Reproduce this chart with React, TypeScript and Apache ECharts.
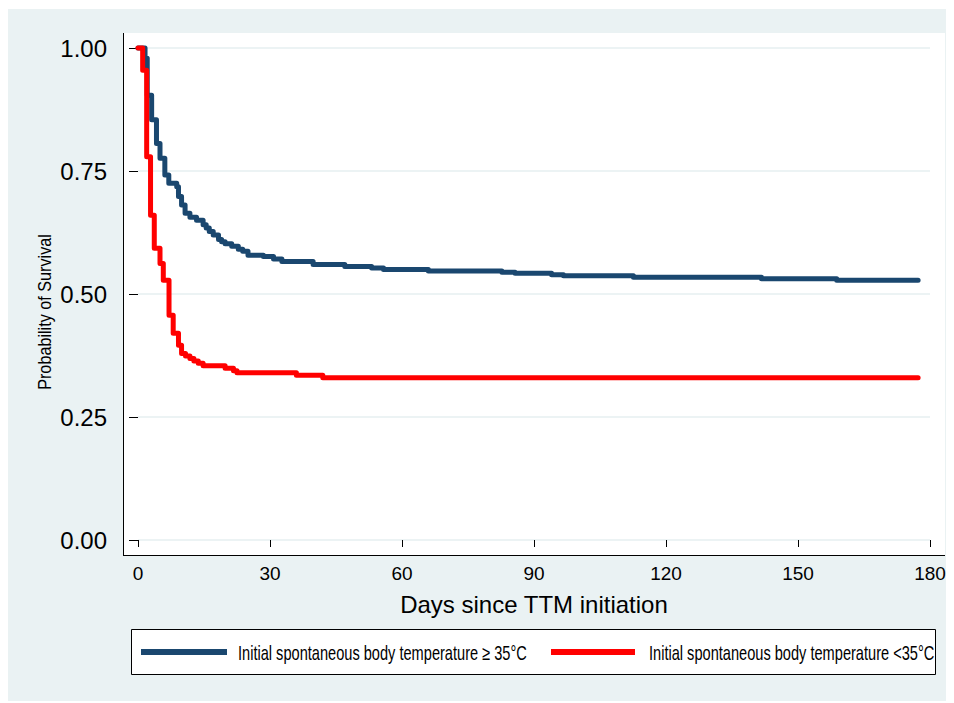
import React, { useEffect, useRef } from "react";
import * as echarts from "echarts";

// Kaplan-Meier step curves (day, survival probability)
const daysHigh = [0, 1.6, 2.1, 3.1, 4.2, 5.0, 6.1, 7.0, 8.8, 9.2, 9.9, 10.7, 11.8, 13.3, 14.8, 15.5, 16.2, 17.1, 18.3, 19.0, 19.8, 21.3, 22.8, 23.8, 25.0, 28.5, 30.8, 32.7, 39.8, 47.0, 53.1, 55.8, 66.0, 82.7, 85.7, 94.0, 96.7, 112.6, 141.7, 158.8, 177.3];
const survHigh = [1.0, 0.979, 0.904, 0.854, 0.806, 0.776, 0.742, 0.725, 0.718, 0.698, 0.681, 0.664, 0.656, 0.65, 0.641, 0.634, 0.627, 0.62, 0.611, 0.606, 0.602, 0.597, 0.591, 0.587, 0.579, 0.576, 0.571, 0.566, 0.56, 0.556, 0.553, 0.55, 0.547, 0.544, 0.542, 0.539, 0.537, 0.534, 0.531, 0.528, 0.528];

const daysLow = [0, 1.06, 1.97, 2.85, 3.7, 5.0, 5.75, 7.05, 8.0, 9.2, 9.9, 10.8, 11.8, 12.7, 13.7, 14.8, 19.8, 21.7, 22.5, 36.0, 42.0, 177.3];
const survLow = [1.0, 0.955, 0.779, 0.66, 0.593, 0.562, 0.528, 0.457, 0.42, 0.396, 0.379, 0.374, 0.369, 0.364, 0.359, 0.354, 0.349, 0.344, 0.34, 0.335, 0.33, 0.33];

const xTicks = [0, 30, 60, 90, 120, 150, 180];
const yTicks = [0, 0.25, 0.5, 0.75, 1.0];

const legendHigh = "Initial spontaneous body temperature \u2265 35\u00B0C";
const legendLow = "Initial spontaneous body temperature <35\u00B0C";
const xTitle = "Days since TTM initiation";
const yTitle = "Probability of Survival";

const BLUE = "#1a476f";
const RED = "#ff0000";
const FONT = "'Liberation Sans', Arial, Helvetica, sans-serif";

export default function App() {
  const ref = useRef<HTMLDivElement>(null);
  useEffect(() => {
    if (!ref.current) return;
    const chart = echarts.init(ref.current, null, { renderer: "svg" });
    const hi = daysHigh.map((d, i) => [d, survHigh[i]]);
    const lo = daysLow.map((d, i) => [d, survLow[i]]);
    chart.setOption({
      animation: false,
      backgroundColor: "#ffffff",
      grid: { left: 138, top: 48, width: 792, height: 492, containLabel: false },
      xAxis: {
        type: "value",
        min: xTicks[0],
        max: xTicks[xTicks.length - 1],
        interval: 30,
        offset: 15,
        axisLine: { show: false },
        axisTick: { show: true, length: 7, lineStyle: { color: "#000", width: 1 } },
        axisLabel: { margin: 9, fontSize: 19, color: "#000", fontFamily: FONT },
        splitLine: { show: false },
      },
      yAxis: {
        type: "value",
        min: yTicks[0],
        max: yTicks[yTicks.length - 1],
        interval: 0.25,
        offset: 15,
        axisLine: { show: false },
        axisTick: { show: true, length: 9, lineStyle: { color: "#000", width: 1 } },
        axisLabel: {
          margin: 16,
          fontSize: 24,
          color: "#000",
          fontFamily: FONT,
          formatter: (v: number) => v.toFixed(2),
        },
        splitLine: { show: true, lineStyle: { color: "#e6eff1", width: 1.5 } },
      },
      graphic: [
        { type: "rect", z: -2, shape: { x: 8, y: 9, width: 938, height: 692 }, style: { fill: "#eaf2f3" } },
        { type: "rect", z: -1, shape: { x: 123, y: 33, width: 822, height: 522 }, style: { fill: "#ffffff" } },
        { type: "line", z: 3, shape: { x1: 123.5, y1: 33, x2: 123.5, y2: 555.5 }, style: { stroke: "#000", lineWidth: 1 } },
        { type: "line", z: 3, shape: { x1: 123, y1: 555.5, x2: 945, y2: 555.5 }, style: { stroke: "#000", lineWidth: 1 } },
        {
          type: "text", z: 3, x: 534, y: 604,
          style: { text: xTitle, fontSize: 24, fontFamily: FONT, fill: "#000", align: "center", verticalAlign: "middle" },
        },
        {
          type: "text", z: 3, x: 45, y: 312, rotation: Math.PI / 2, scaleX: 0.9,
          style: { text: yTitle, fontSize: 18, fontFamily: FONT, fill: "#000", align: "center", verticalAlign: "middle" },
        },
        { type: "rect", z: 3, shape: { x: 131.5, y: 629.5, width: 804, height: 45 }, style: { fill: "#fff", stroke: "#000", lineWidth: 1 } },
        { type: "line", z: 4, shape: { x1: 141, y1: 652, x2: 227, y2: 652 }, style: { stroke: BLUE, lineWidth: 6 } },
        {
          type: "text", z: 4, x: 238, y: 653, scaleX: 0.73,
          style: { text: legendHigh, fontSize: 20, fontFamily: FONT, fill: "#000", align: "left", verticalAlign: "middle" },
        },
        { type: "line", z: 4, shape: { x1: 551, y1: 652, x2: 635, y2: 652 }, style: { stroke: RED, lineWidth: 6 } },
        {
          type: "text", z: 4, x: 649, y: 653, scaleX: 0.73,
          style: { text: legendLow, fontSize: 20, fontFamily: FONT, fill: "#000", align: "left", verticalAlign: "middle" },
        },
      ],
      series: [
        {
          name: legendHigh,
          type: "line",
          step: "end",
          data: hi,
          showSymbol: false,
          symbol: "none",
          clip: false,
          lineStyle: { color: BLUE, width: 5, cap: "round", join: "round" },
          itemStyle: { color: BLUE },
          z: 3,
        },
        {
          name: legendLow,
          type: "line",
          step: "end",
          data: lo,
          showSymbol: false,
          symbol: "none",
          clip: false,
          lineStyle: { color: RED, width: 5, cap: "round", join: "round" },
          itemStyle: { color: RED },
          z: 4,
        },
      ],
    });
    return () => chart.dispose();
  }, []);
  return <div ref={ref} style={{ position: "fixed", left: 0, top: 0, width: 954, height: 703 }} />;
}
